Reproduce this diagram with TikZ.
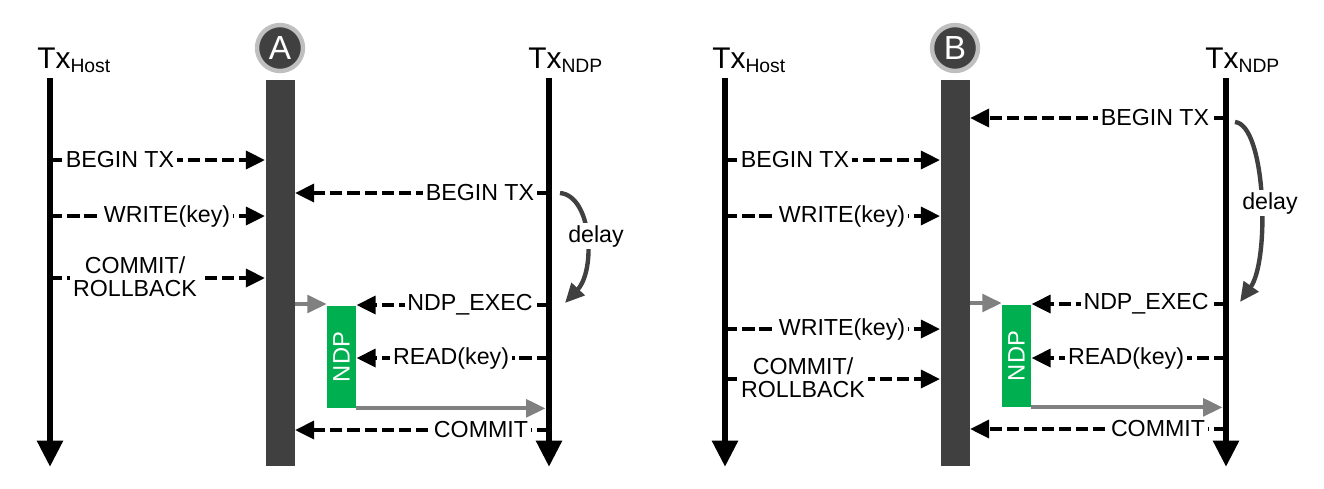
\documentclass[tikz,border=0pt]{standalone}
\usepackage{fontspec}
\setmainfont{Liberation Sans}
\usetikzlibrary{arrows.meta, positioning}

\definecolor{bardark}{HTML}{404040}
\definecolor{ndpgreen}{HTML}{00B050}
\definecolor{ringgray}{HTML}{BFBFBF}
\definecolor{flowgray}{HTML}{808080}

\tikzset{
  timeline/.style={line width=3.8pt, -{Triangle[length=15pt,width=14pt]}},
  msg/.style={line width=2.6pt, dash pattern=on 7pt off 2.8pt, -{Triangle[length=11pt,width=10pt]}},
  lbl/.style={fill=white, inner sep=1.5pt, font=\fontsize{13.2}{13}\selectfont, align=center},
  txlbl/.style={anchor=base west, inner sep=0pt, font=\fontsize{17}{18}\selectfont},
  fwbar/.style={fill=bardark, minimum width=0.58cm, minimum height=7.72cm, inner sep=0pt},
  ndpbox/.style={fill=ndpgreen, text=white, minimum width=0.58cm, minimum height=2.04cm, inner sep=0pt, font=\fontsize{13.5}{15}\selectfont},
  flow/.style={flowgray, line width=2.2pt, -{Triangle[length=11pt,width=10pt]}},
  delayarrow/.style={bardark, line width=2.5pt, -{Triangle[length=11pt,width=10pt]}},
  modecirc/.style={circle, fill=bardark, draw=ringgray, line width=2.5pt, minimum size=0.92cm, inner sep=0pt, text=white, font=\fontsize{19}{20}\selectfont}
}

\newcommand{\txsub}[1]{Tx\raisebox{-2.7pt}{\fontsize{11}{12}\selectfont #1}}

\begin{document}
\begin{tikzpicture}[x=0.02cm, y=-0.02cm]
  \useasboundingbox (0,0) rectangle (1324,488);

  % Panel A: lifelines
  \coordinate (hostA) at (50,78);
  \coordinate (hostAend) at (50,467);
  \coordinate (ndpA) at (549,78);
  \coordinate (ndpAend) at (549,467);
  \draw[timeline] (hostA) -- (hostAend);
  \draw[timeline] (ndpA) -- (ndpAend);
  \node[txlbl] (txhostA) at (37,68) {\txsub{Host}};
  \node[txlbl] (txndpA) at (528,68) {\txsub{NDP}};
  \node[fwbar] (barA) at (280,273) {};
  \node[modecirc] (circA) at (280,48) {A};
  \node[ndpbox] (boxA) at (341.5,357) {\rotatebox{90}{NDP}};

  % Panel A: messages
  \draw[msg] (hostA |- 0,160) -- (barA.west |- 0,160);
  \node[lbl] (a1) at (120,160) {BEGIN TX};
  \draw[msg] (hostA |- 0,216) -- (barA.west |- 0,216);
  \node[lbl] (a2) at (167,216) {WRITE(key)};
  \draw[msg] (hostA |- 0,278) -- (barA.west |- 0,278);
  \node[lbl] (a3) at (135,277) {COMMIT/\\ROLLBACK};
  \draw[msg] (ndpA |- 0,193) -- (barA.east |- 0,193);
  \node[lbl] (a4) at (480,193) {BEGIN TX};
  \draw[msg] (ndpA |- 0,305) -- (boxA.east |- 0,305);
  \node[lbl] (a5) at (470,305) {NDP\_EXEC};
  \draw[msg] (ndpA |- 0,358) -- (boxA.east |- 0,358);
  \node[lbl] (a6) at (451,358) {READ(key)};
  \draw[msg] (ndpA |- 0,430) -- (barA.east |- 0,430);
  \node[lbl] (a7) at (481,430) {COMMIT};

  % Panel A: NDP flow and delay
  \draw[flow] (barA.east |- 0,304) -- (boxA.west |- 0,304);
  \draw[flow, shorten >=2pt] (boxA.south east) -- (ndpA |- boxA.south east);
  \draw[delayarrow] (560,193) .. controls (592,196) and (596,270) .. (565,303);
  \node[lbl] (delayA) at (596,236) {delay};

  % Panel B: lifelines
  \coordinate (hostB) at (725,78);
  \coordinate (hostBend) at (725,467);
  \coordinate (ndpB) at (1226,78);
  \coordinate (ndpBend) at (1226,467);
  \draw[timeline] (hostB) -- (hostBend);
  \draw[timeline] (ndpB) -- (ndpBend);
  \node[txlbl] (txhostB) at (712,68) {\txsub{Host}};
  \node[txlbl] (txndpB) at (1205,68) {\txsub{NDP}};
  \node[fwbar] (barB) at (955,273) {};
  \node[modecirc] (circB) at (955,48) {B};
  \node[ndpbox] (boxB) at (1016.5,356) {\rotatebox{90}{NDP}};

  % Panel B: messages
  \draw[msg] (ndpB |- 0,118) -- (barB.east |- 0,118);
  \node[lbl] (b1) at (1155,118) {BEGIN TX};
  \draw[msg] (hostB |- 0,160) -- (barB.west |- 0,160);
  \node[lbl] (b2) at (795,160) {BEGIN TX};
  \draw[msg] (hostB |- 0,216) -- (barB.west |- 0,216);
  \node[lbl] (b3) at (842,216) {WRITE(key)};
  \draw[msg] (ndpB |- 0,304) -- (boxB.east |- 0,304);
  \node[lbl] (b4) at (1146,304) {NDP\_EXEC};
  \draw[msg] (hostB |- 0,329) -- (barB.west |- 0,329);
  \node[lbl] (b5) at (842,329) {WRITE(key)};
  \draw[msg] (ndpB |- 0,358) -- (boxB.east |- 0,358);
  \node[lbl] (b6) at (1126,358) {READ(key)};
  \draw[msg] (hostB |- 0,379) -- (barB.west |- 0,379);
  \node[lbl] (b7) at (803,378) {COMMIT/\\ROLLBACK};
  \draw[msg] (ndpB |- 0,429) -- (barB.east |- 0,429);
  \node[lbl] (b8) at (1158,429) {COMMIT};

  % Panel B: NDP flow and delay
  \draw[flow] (barB.east |- 0,303) -- (boxB.west |- 0,303);
  \draw[flow, shorten >=2pt] (boxB.south east) -- (ndpB |- boxB.south east);
  \draw[delayarrow] (1235,122) .. controls (1266,125) and (1270,260) .. (1240,302);
  \node[lbl] (delayB) at (1270,203) {delay};
\end{tikzpicture}
\end{document}
